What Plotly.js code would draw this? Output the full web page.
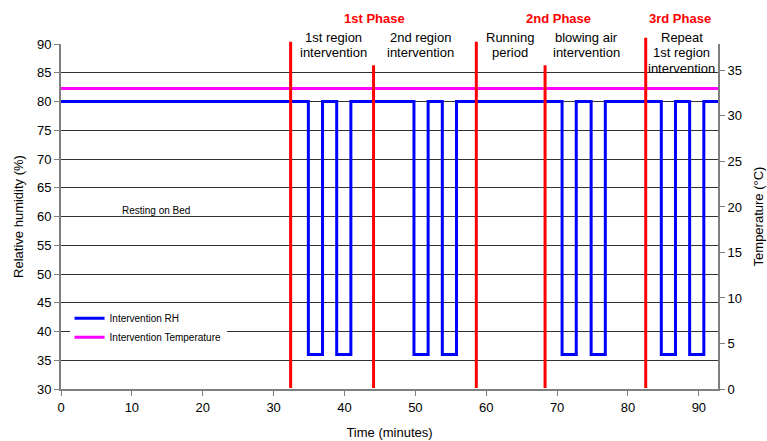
<!DOCTYPE html>
<html>
<head>
<meta charset="utf-8">
<script src="https://cdn.plot.ly/plotly-3.0.1.min.js"></script>
<style>html,body{margin:0;padding:0;background:#fff;}#chart{width:767px;height:441px;}</style>
</head>
<body>
<div id="chart"></div>
<script>
// ---- data ----
var rhTime = [0, 34.9, 36.9, 38.9, 40.9, 49.8, 51.8, 53.8, 55.8, 70.7, 72.7, 74.8, 76.8, 84.7, 86.7, 88.7, 90.7, 92.7];
var rhValue = [80, 36, 80, 36, 80, 36, 80, 36, 80, 36, 80, 36, 80, 36, 80, 36, 80, 80];
var tempTime = [0, 92.7];
var tempValue = [33, 33];
var markerTime = [32.4, 44.1, 58.6, 68.3, 82.5];
var markerTop = [90.4, 86.3, 90.4, 86.3, 91.1];   // in RH units
var phaseLabels = ["1st Phase", "2nd Phase", "3rd Phase"];
var phaseX = [44.3, 70.2, 87.3];
var stepLines = [["1st region", "intervention"], ["2nd region", "intervention"], ["Running", "period"], ["blowing air", "intervention"], ["Repeat", "1st region", "intervention"]];
var stepX = [38.4, 50.7, 63.3, 74.2, 87.6];
var xTicks = [0, 10, 20, 30, 40, 50, 60, 70, 80, 90];
var rhTicks = [30, 35, 40, 45, 50, 55, 60, 65, 70, 75, 80, 85, 90];
var tempTicks = [0, 5, 10, 15, 20, 25, 30, 35];

var FONT = "Liberation Sans, Arial, sans-serif";
var rhMin = 30, rhMax = 90;

var traces = [
  {x: rhTime, y: rhValue, type: "scatter", mode: "lines", line: {shape: "hv", color: "#0000ff", width: 3}, name: "Intervention RH", yaxis: "y"},
  {x: tempTime, y: tempValue, type: "scatter", mode: "lines", line: {color: "#ff00ff", width: 3}, name: "Intervention Temperature", yaxis: "y2"}
];

var shapes = markerTime.map(function (t, i) {
  return {type: "line", xref: "x", yref: "paper", x0: t, x1: t, y0: 0.003, y1: (markerTop[i] - rhMin) / (rhMax - rhMin), line: {color: "#ff0000", width: 3}, layer: "above"};
});

var annotations = [];
phaseLabels.forEach(function (p, i) {
  annotations.push({text: "<b>" + p + "</b>", x: phaseX[i], xref: "x", y: 1.074, yref: "paper", showarrow: false, xanchor: "center", yanchor: "middle", font: {family: FONT, size: 13, color: "#ff0000"}});
});
var lineY = [1.018, 0.975, 0.930];
stepLines.forEach(function (lines, i) {
  lines.forEach(function (s, j) {
    annotations.push({text: s, x: stepX[i], xref: "x", y: lineY[j], yref: "paper", showarrow: false, xanchor: "center", yanchor: "middle", font: {family: FONT, size: 13, color: "#000"}});
  });
});
annotations.push({text: "Resting on Bed", x: 8.3, xref: "x", y: 61, yref: "y", showarrow: false, xanchor: "left", yanchor: "middle", font: {family: FONT, size: 10, color: "#000"}});

var layout = {
  width: 767, height: 441,
  margin: {l: 61, r: 49, t: 44, b: 52, pad: 0},
  paper_bgcolor: "#fff", plot_bgcolor: "#fff",
  font: {family: FONT, size: 13, color: "#000"},
  showlegend: true,
  legend: {x: 0.013, y: 0.247, xanchor: "left", yanchor: "top", bgcolor: "#fff", borderwidth: 0, font: {family: FONT, size: 10, color: "#000"}, tracegroupgap: 0},
  xaxis: {range: [0, 92.7], tickvals: xTicks, ticks: "outside", ticklen: 5, tickcolor: "#7f7f7f", showgrid: false, zeroline: false, showline: true, linecolor: "#7f7f7f", linewidth: 2, tickfont: {size: 13}, title: {text: "Time (minutes)", font: {size: 13}, standoff: 14}},
  yaxis: {range: [rhMin, rhMax], tickvals: rhTicks, ticks: "outside", ticklen: 5, tickcolor: "#7f7f7f", showgrid: true, gridcolor: "#333", gridwidth: 1, zeroline: false, showline: true, linecolor: "#7f7f7f", linewidth: 2, tickfont: {size: 13}, title: {text: "Relative humidity (%)", font: {size: 13}, standoff: 10}},
  yaxis2: {range: [0, 37.9], tickvals: tempTicks, overlaying: "y", side: "right", ticks: "outside", ticklen: 5, tickcolor: "#7f7f7f", showgrid: false, zeroline: false, showline: true, linecolor: "#7f7f7f", linewidth: 2, tickfont: {size: 13}, title: {text: "Temperature (°C)", font: {size: 13}, standoff: 13}},
  shapes: shapes,
  annotations: annotations
};

Plotly.newPlot("chart", traces, layout, {displayModeBar: false, staticPlot: true});
</script>
</body>
</html>
